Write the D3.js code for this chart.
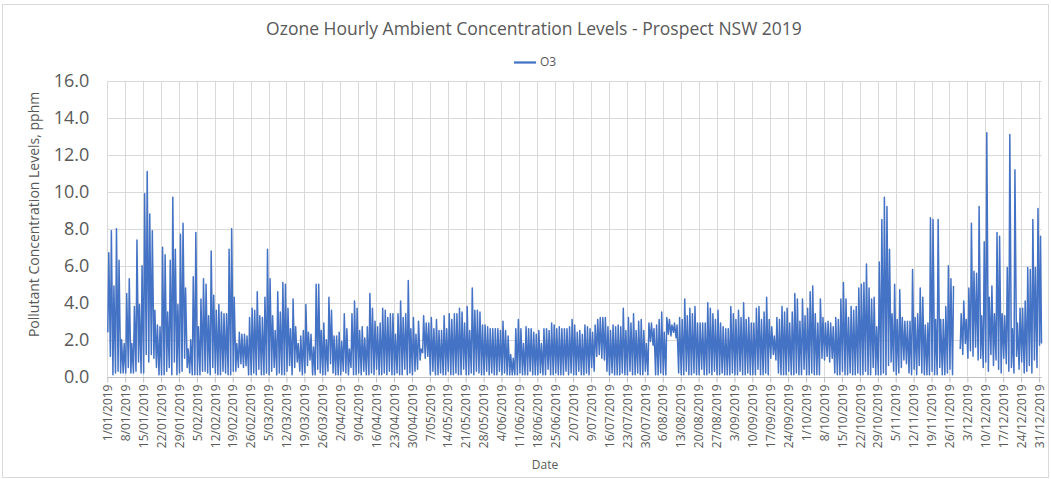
<!DOCTYPE html>
<html>
<head>
<meta charset="utf-8">
<script src="https://cdn.jsdelivr.net/npm/d3@7"></script>
<style>
  body { margin: 0; background: #fff; }
  svg text { font-family: "Open Sans", sans-serif; fill: #595959; }
</style>
</head>
<body>
<svg id="chart" width="1051" height="479"></svg>
<script>
// Ozone (O3), Prospect NSW, 2019 — daily peak and trough of the hourly readings, pphm.
// One entry per day from 1 Jan (index 0) to 31 Dec (index 364); null = no data.
const dailyMax = [
  // Jan 1 – Feb 16
  6.7,7.9,4.9,8.0,6.3,2.0,1.8, 4.5,5.3,1.8,3.8,7.4,3.9,6.0,
  9.9,11.1,8.8,7.9,3.6,2.8,2.7, 7.0,6.6,3.5,6.3,9.7,6.9,3.9,
  7.7,8.3,4.8,1.5,2.0,5.4,7.8, 2.7,4.2,5.3,5.0,3.3,6.8,4.4,
  3.6,3.9,3.5,3.4,3.4,
  // Feb 17 – Apr 4
  6.9,8.0,4.3,1.8,2.4,2.3,2.3, 2.2,3.2,3.7,3.6,4.6,3.3,3.2,
  4.3,6.9,5.3,3.3,2.5,4.6,3.5, 5.1,5.0,3.7,2.6,4.2,2.7,1.8,
  2.2,2.5,3.9,2.4,2.3,1.6,5.0, 5.0,2.5,2.9,2.0,4.3,3.6,2.2,
  2.2,2.4,1.9,3.4,2.6,1.5,
  // Apr 5 – May 24
  3.4,4.1,3.7,2.5,2.7,2.1,2.7, 4.5,3.7,3.0,2.7,2.9,3.7,3.6,
  3.2,3.4,3.4,2.3,3.4,4.1,3.2, 3.4,5.2,2.6,3.2,2.3,3.0,1.5,
  3.3,2.9,2.9,3.2,2.6,3.1,2.5, 2.5,3.3,2.6,3.4,3.1,3.4,3.4,
  3.7,3.5,2.9,3.8,2.5,4.8,3.6,3.6,
  // May 25 – Jul 12
  3.5,2.8,2.8,2.7,2.6,2.6,2.6, 2.6,2.5,3.0,2.5,2.2,1.2,1.0,
  2.6,3.1,2.6,1.8,2.7,2.6,2.6, 2.4,2.3,2.5,1.8,2.6,2.6,2.5,
  2.9,2.8,2.6,2.7,2.6,2.6,2.6, 2.7,3.1,2.8,2.4,2.5,2.3,2.8,
  2.7,2.6,2.4,2.8,3.1,3.2,3.2,
  // Jul 13 – Aug 30
  3.2,2.7,2.5,2.8,2.7,2.8,2.7, 3.7,2.5,3.2,2.9,3.4,2.5,3.0,
  3.1,2.5,1.8,2.9,2.9,2.6,2.8, 3.1,3.5,2.4,3.2,3.1,2.8,2.9,
  2.8,3.2,3.1,4.2,3.3,3.7,3.4, 3.8,2.9,2.9,2.9,2.9,4.0,3.7,
  3.4,3.1,3.6,2.9,2.7,2.6,2.6,
  // Aug 31 – Oct 18
  3.8,3.4,3.1,3.6,3.2,4.0,3.1, 3.2,2.9,2.9,3.7,3.8,3.1,3.5,
  4.3,3.1,2.7,2.2,3.2,3.1,3.8, 3.5,3.7,2.9,3.5,4.5,4.2,3.0,
  4.2,3.3,3.7,4.6,4.9,3.4,2.9, 4.2,3.2,2.9,3.0,2.9,2.7,3.2,
  3.1,4.2,5.1,4.2,3.2,3.8,3.6,
  // Oct 19 – Nov 26
  3.8,4.8,5.0,5.1,6.1,4.8,4.2, 4.3,2.7,6.2,8.5,9.7,9.2,6.9,
  3.4,5.0,3.1,4.7,3.2,3.0,3.0, 3.0,5.8,3.2,3.4,4.8,4.3,2.8,
  2.9,8.6,8.5,3.1,8.5,3.1,3.1, 3.8,6.0,5.3,4.9,
  // Nov 27 – Nov 28 (no data)
  null,null,
  // Nov 29 – Dec 31
  3.4,4.1,3.1,4.8,8.3,5.7,5.6,9.2, 3.3,7.3,13.2,4.3,4.9,3.4,7.8,7.6,
  3.4,3.3,5.9,13.1,2.6,11.2,2.9,3.7, 3.7,4.1,5.9,5.8,8.5,5.9,9.1,7.6
];

const dailyMin = [
  // Jan 1 – Feb 18
  2.4,1.1,0.1,0.2,0.3,0.2,0.2, 0.2,0.5,0.2,0.2,0.3,0.8,0.2,
  0.2,1.2,0.8,1.2,1.0,0.5,0.1, 0.1,0.1,0.3,0.5,0.1,0.8,0.1,
  0.2,0.3,1.0,0.5,0.2,0.1,0.1, 0.1,0.1,0.3,0.3,0.2,0.1,0.5,
  0.2,0.1,0.1,0.3,0.2,0.1,0.1,
  // Feb 19 – Apr 7
  0.3,0.3,0.5,0.7,0.5,0.6,0.1, 0.1,0.2,0.1,0.4,0.1,0.1,0.2,
  0.1,0.3,0.5,0.1,0.2,0.1,0.1, 0.3,0.6,0.1,0.5,0.8,0.3,0.1,
  0.2,0.6,0.9,0.1,0.1,0.4,0.2, 0.1,0.1,0.3,0.7,0.2,0.1,0.1,
  0.1,0.3,0.2,0.1,0.5,0.1,
  // Apr 8 – May 25
  0.1,0.2,0.1,0.3,0.1,0.1,0.2, 0.1,0.4,0.1,0.1,0.2,0.1,0.3,
  0.1,0.1,0.2,0.1,0.1,0.4,0.1, 0.2,0.1,0.3,0.4,0.9,1.3,1.0,
  1.1,0.1,0.3,0.1,0.1,0.2,0.1, 0.1,0.3,0.1,0.1,0.2,0.1,0.1,
  0.4,0.1,0.1,0.2,0.1,0.3,
  // May 26 – Jul 12
  0.2,0.1,0.1,0.3,0.1,0.2,0.1, 0.1,0.3,0.1,0.2,0.1,0.1,0.1,
  0.1,0.1,0.2,0.1,0.1,0.1,0.3, 0.1,0.1,0.1,0.2,0.1,0.1,0.4,
  0.1,0.1,0.2,0.1,0.1,0.1,0.3, 0.1,0.2,0.1,0.1,0.3,0.1,0.1,
  0.2,0.1,0.5,0.3,1.1,1.2,1.0,
  // Jul 13 – Aug 30
  0.9,0.3,0.1,0.2,0.1,0.1,0.1, 0.2,0.1,0.1,0.3,0.1,0.1,0.2,
  0.1,0.1,0.3,0.1,1.9,1.7,0.1, 0.1,0.2,0.1,0.1,2.3,2.2,2.4,
  2.1,0.2,0.1,0.1,0.3,0.1,0.1, 0.2,0.1,0.1,0.4,0.1,0.1,0.2,
  0.1,0.3,0.1,0.1,0.2,0.1,0.1,
  // Aug 31 – Oct 18
  0.1,0.2,0.1,0.1,0.3,0.1,0.1, 0.2,0.1,0.1,0.1,0.4,0.1,0.1,
  0.2,0.1,1.0,1.2,0.9,0.2,0.1, 0.1,0.1,0.3,0.1,0.1,0.2,0.1,
  0.1,0.4,0.1,0.1,0.2,0.1,0.1, 0.1,1.0,0.9,1.1,0.8,1.0,0.2,
  0.1,0.1,0.3,0.1,0.1,0.2,0.1,
  // Oct 19 – Nov 26
  0.1,0.2,0.1,0.1,0.3,0.1,0.1, 0.5,0.1,0.1,0.1,0.2,0.1,0.6,
  0.8,0.3,0.1,0.2,0.5,0.9,0.7, 0.2,0.1,0.4,0.1,0.6,0.2,0.1,
  0.1,0.1,0.3,0.1,0.1,0.5,0.1, 0.1,0.2,0.4,0.1,
  // Nov 27 – Nov 28 (no data)
  null,null,
  // Nov 29 – Dec 31
  1.5,1.2,1.8,1.0,1.4,1.1,1.6,0.9, 1.0,0.5,0.8,0.3,1.2,0.6,0.9,0.4,
  0.2,1.0,0.7,0.3,0.5,0.2,1.1,0.4, 0.8,0.2,0.3,0.6,0.2,0.9,0.5,1.7
];

// last reading of the year, 31 Dec 23:00
const finalReading = 1.8;

const yTicks = [0, 2, 4, 6, 8, 10, 12, 14, 16];
const seriesName = "O3";
const chartTitle = "Ozone Hourly Ambient Concentration Levels - Prospect NSW 2019";
const yTitle = "Pollutant Concentration Levels, pphm";
const xTitle = "Date";
const yearStart = new Date(2019, 0, 1);
const yearEnd = new Date(2020, 0, 1);
// daily trough in the early morning, peak in the afternoon
const troughHour = 5, peakHour = 14;

const svg = d3.select("#chart");
const W = 1051, H = 479;
const plot = { left: 107.3, right: 1041.6, top: 80.9, bottom: 376.7 };
const blue = "#4472C4";

// chart border
svg.append("rect")
  .attr("x", 2.5).attr("y", 4.5).attr("width", W - 5).attr("height", H - 6)
  .attr("fill", "#fff").attr("stroke", "#D9D9D9");

const x = d3.scaleTime().domain([yearStart, yearEnd]).range([plot.left, plot.right]);
const y = d3.scaleLinear().domain([0, 16]).range([plot.bottom, plot.top]);

// hourly-style trace: trough then peak for each day
const points = [];
dailyMax.forEach((mx, i) => {
  const mn = dailyMin[i];
  points.push({ t: new Date(2019, 0, 1 + i, troughHour), v: mn });
  points.push({ t: new Date(2019, 0, 1 + i, peakHour), v: mx });
});
points.push({ t: new Date(2019, 11, 31, 23), v: finalReading });

const weekTicks = d3.timeDay.range(yearStart, yearEnd, 7);
const fmt = d3.timeFormat("%-d/%m/%Y");

// gridlines
const grid = svg.append("g").attr("stroke", "#D9D9D9").attr("stroke-width", 1);
grid.selectAll(".hg").data(yTicks.filter(v => v > 0)).join("line")
  .attr("x1", plot.left).attr("x2", plot.right)
  .attr("y1", d => Math.round(y(d)) + 0.5).attr("y2", d => Math.round(y(d)) + 0.5);
grid.selectAll(".vg").data(weekTicks).join("line")
  .attr("x1", d => Math.round(x(d)) + 0.5).attr("x2", d => Math.round(x(d)) + 0.5)
  .attr("y1", plot.top).attr("y2", plot.bottom);

// x axis
const xAxis = svg.append("g")
  .attr("transform", `translate(0,${Math.round(plot.bottom) + 0.5})`)
  .call(d3.axisBottom(x).tickValues(weekTicks).tickFormat(fmt).tickSize(5).tickSizeOuter(0));
xAxis.select(".domain").attr("stroke", "#BFBFBF").attr("d", `M${plot.left},0H${plot.right}`);
xAxis.selectAll(".tick line").attr("stroke", "#BFBFBF");
xAxis.selectAll(".tick text")
  .attr("transform", "rotate(-90)")
  .attr("x", -7).attr("y", 0).attr("dy", "0.35em")
  .style("text-anchor", "end")
  .style("font-size", "12px")
  .style("font-family", "'Open Sans', sans-serif")
  .attr("fill", "#595959");

// y axis labels
const yAxis = svg.append("g")
  .attr("transform", `translate(${plot.left},0)`)
  .call(d3.axisLeft(y).tickValues(yTicks).tickFormat(d3.format(".1f")).tickSize(0).tickPadding(18));
yAxis.select(".domain").remove();
yAxis.selectAll(".tick text")
  .style("font-size", "18px")
  .style("font-family", "'Open Sans', sans-serif")
  .attr("fill", "#595959");

// series line
const line = d3.line()
  .defined(d => d.v !== null)
  .x(d => x(d.t))
  .y(d => y(d.v));
svg.append("path")
  .datum(points)
  .attr("fill", "none")
  .attr("stroke", blue)
  .attr("stroke-width", 1.5)
  .attr("stroke-linejoin", "round")
  .attr("d", line);

// title
svg.append("text")
  .attr("x", 534).attr("y", 29).attr("dy", "0.35em")
  .attr("text-anchor", "middle")
  .style("font-size", "17.5px")
  .text(chartTitle);

// legend
svg.append("line")
  .attr("x1", 514).attr("x2", 536).attr("y1", 62.5).attr("y2", 62.5)
  .attr("stroke", blue).attr("stroke-width", 2.25);
svg.append("text")
  .attr("x", 540).attr("y", 62).attr("dy", "0.35em")
  .style("font-size", "12px")
  .text(seriesName);

// axis titles
svg.append("text")
  .attr("transform", `translate(34,${(plot.top + 348) / 2}) rotate(-90)`)
  .attr("dy", "0.35em")
  .attr("text-anchor", "middle")
  .style("font-size", "14px")
  .text(yTitle);
svg.append("text")
  .attr("x", 545).attr("y", 465).attr("dy", "0.35em")
  .attr("text-anchor", "middle")
  .style("font-size", "12px")
  .text(xTitle);
</script>
</body>
</html>
